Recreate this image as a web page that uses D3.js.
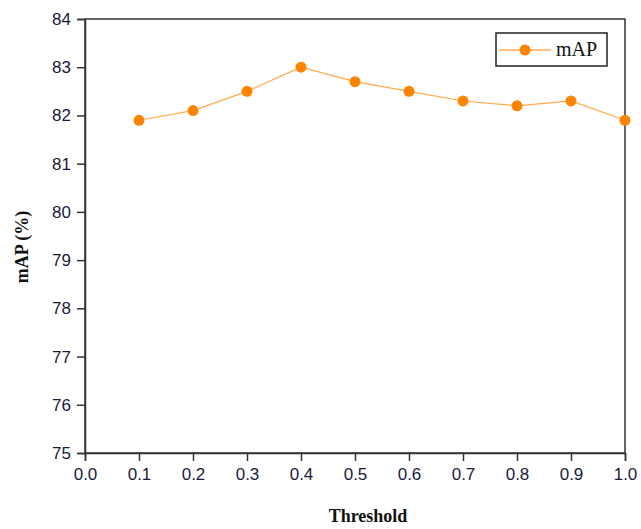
<!DOCTYPE html>
<html>
<head>
<meta charset="utf-8">
<script src="https://cdn.jsdelivr.net/npm/d3@7"></script>
<style>
  body { margin: 0; background: #fff; }
  .tick text { font-family: "Liberation Sans", Arial, sans-serif; font-size: 17px; fill: #1a1a3a; }
</style>
</head>
<body>
<script>
// data
let thresholds = [0.1, 0.2, 0.3, 0.4, 0.5, 0.6, 0.7, 0.8, 0.9, 1.0];
let mapValues = [81.9, 82.1, 82.5, 83.0, 82.7, 82.5, 82.3, 82.2, 82.3, 81.9];
let xTicks = [0, 0.1, 0.2, 0.3, 0.4, 0.5, 0.6, 0.7, 0.8, 0.9, 1.0];
let yTicks = [75, 76, 77, 78, 79, 80, 81, 82, 83, 84];

window.onload = function() {
  draw();
};

function draw() {
  let W = 641, H = 529;
  let margin = {top: 19, right: 16, bottom: 76, left: 85};
  let w = W - margin.left - margin.right;
  let h = H - margin.top - margin.bottom;
  let orange = '#ff8400';

  let svg = d3.select('body')
    .append('svg')
    .attr('width', W)
    .attr('height', H)
    .append('g')
    .attr('transform', `translate(${margin.left},${margin.top})`);

  let x = d3.scaleLinear().domain([0, 1]).range([0, w]);
  let y = d3.scaleLinear().domain([75, 84]).range([h, 0]);

  // frame
  svg.append('rect')
    .attr('width', w)
    .attr('height', h)
    .attr('fill', 'none')
    .attr('stroke', '#333')
    .attr('stroke-width', 1.5);

  // x axis
  let xAxis = svg.append('g')
    .attr('transform', `translate(0,${h})`)
    .call(d3.axisBottom(x).tickValues(xTicks).tickFormat(d3.format('.1f')).tickSize(8).tickPadding(7));

  // y axis
  let yAxis = svg.append('g')
    .call(d3.axisLeft(y).tickValues(yTicks).tickSize(8).tickPadding(6));

  [xAxis, yAxis].forEach(function(a) {
    a.select('.domain').attr('stroke', '#333').attr('stroke-width', 1.5);
    a.selectAll('.tick line').attr('stroke', '#333').attr('stroke-width', 1.5);
  });

  // line
  let line = d3.line()
    .x(function(d, i) { return x(thresholds[i]); })
    .y(function(d) { return y(d); });

  svg.append('path')
    .datum(mapValues)
    .attr('d', line)
    .attr('fill', 'none')
    .attr('stroke', orange)
    .attr('stroke-opacity', 0.7)
    .attr('stroke-width', 1.2);

  svg.selectAll('circle.pt')
    .data(mapValues)
    .enter()
    .append('circle')
    .attr('class', 'pt')
    .attr('cx', function(d, i) { return x(thresholds[i]); })
    .attr('cy', function(d) { return y(d); })
    .attr('r', 5.5)
    .attr('fill', orange);

  // legend
  let lg = svg.append('g')
    .attr('transform', `translate(${411},${14})`);
  lg.append('rect')
    .attr('width', 111)
    .attr('height', 33)
    .attr('fill', '#fff')
    .attr('stroke', '#222')
    .attr('stroke-width', 1.5);
  lg.append('line')
    .attr('x1', 3).attr('x2', 55)
    .attr('y1', 17).attr('y2', 17)
    .attr('stroke', orange)
    .attr('stroke-width', 1.2);
  lg.append('circle')
    .attr('cx', 29).attr('cy', 17).attr('r', 5.5)
    .attr('fill', orange);
  lg.append('text')
    .attr('x', 60).attr('y', 23)
    .style('font-family', '"Liberation Serif", "Times New Roman", serif')
    .style('font-size', '20px')
    .style('fill', '#111')
    .text('mAP');

  // y label
  svg.append('text')
    .attr('transform', `translate(-57,${h / 2 + 11})rotate(-90)`)
    .style('text-anchor', 'middle')
    .style('font-family', '"Liberation Serif", "Times New Roman", serif')
    .style('font-size', '18px')
    .style('font-weight', '700')
    .style('fill', '#111')
    .text('mAP (%)');

  // x label
  svg.append('text')
    .attr('x', w / 2 + 13)
    .attr('y', h + 69)
    .style('text-anchor', 'middle')
    .style('font-family', '"Liberation Serif", "Times New Roman", serif')
    .style('font-size', '18px')
    .style('font-weight', '700')
    .style('fill', '#111')
    .text('Threshold');
}
</script>
</body>
</html>
